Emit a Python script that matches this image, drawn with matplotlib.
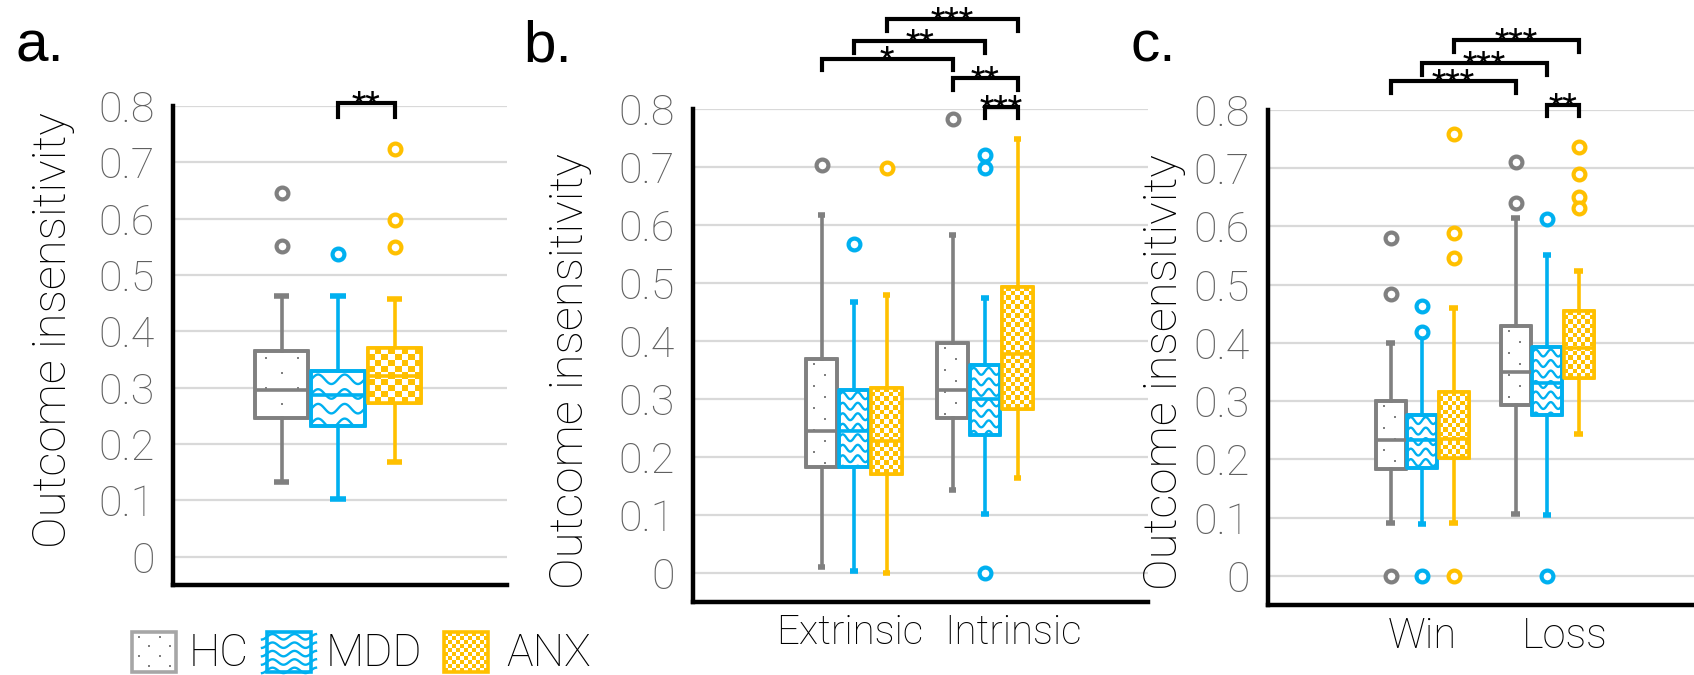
import numpy as np
import matplotlib
matplotlib.use("Agg")
import matplotlib.pyplot as plt
from matplotlib import font_manager as fm
from matplotlib.patches import Rectangle, PathPatch
from matplotlib.colors import ListedColormap

# --- data ---
groups = ["HC", "MDD", "ANX"]
colors = ["#808080", "#00b0f0", "#ffc000"]
legend_edges = ["#a6a6a6", "#00b0f0", "#ffc000"]
patterns = ["dots", "waves", "checker"]
y_ticks = [0, 0.1, 0.2, 0.3, 0.4, 0.5, 0.6, 0.7, 0.8]
y_ticklabels = ["0", "0.1", "0.2", "0.3", "0.4", "0.5", "0.6", "0.7", "0.8"]
ylabel = "Outcome insensitivity"

# panel a: one condition, per group
a_lo = [0.133, 0.102, 0.169]
a_q1 = [0.246, 0.232, 0.273]
a_med = [0.296, 0.287, 0.321]
a_q3 = [0.366, 0.330, 0.370]
a_hi = [0.462, 0.463, 0.457]
a_out = [[0.646, 0.551], [0.537], [0.723, 0.598, 0.550]]
a_sig = [((0, 1), (0, 2), 0.806, "**")]

# panel b: [Extrinsic, Intrinsic] x [HC, MDD, ANX]
b_conds = ["Extrinsic", "Intrinsic"]
b_lo = [[0.010, 0.003, 0.000], [0.143, 0.101, 0.164]]
b_q1 = [[0.183, 0.183, 0.170], [0.268, 0.238, 0.282]]
b_med = [[0.245, 0.245, 0.227], [0.316, 0.300, 0.378]]
b_q3 = [[0.369, 0.316, 0.319], [0.397, 0.358, 0.493]]
b_hi = [[0.617, 0.468, 0.480], [0.582, 0.474, 0.748]]
b_out = [[[0.704], [0.567], [0.698]], [[0.783], [0.720, 0.698, 0.0], []]]
b_sig = [((0, 2), (1, 2), 0.955, "***"), ((0, 1), (1, 1), 0.917, "**"),
         ((0, 0), (1, 0), 0.887, "*"), ((1, 0), (1, 2), 0.853, "**"),
         ((1, 1), (1, 2), 0.804, "***")]

# panel c: [Win, Loss] x [HC, MDD, ANX]
c_conds = ["Win", "Loss"]
c_lo = [[0.091, 0.089, 0.091], [0.107, 0.104, 0.244]]
c_q1 = [[0.183, 0.186, 0.203], [0.294, 0.276, 0.339]]
c_med = [[0.234, 0.234, 0.235], [0.350, 0.332, 0.391]]
c_q3 = [[0.300, 0.277, 0.316], [0.429, 0.393, 0.455]]
c_hi = [[0.400, 0.413, 0.460], [0.615, 0.551, 0.523]]
c_out = [[[0.581, 0.484, 0.0], [0.463, 0.418, 0.0], [0.758, 0.589, 0.546, 0.0]],
         [[0.711, 0.641], [0.613, 0.0], [0.736, 0.690, 0.651, 0.631]]]
c_sig = [((0, 2), (1, 2), 0.920, "***"), ((0, 1), (1, 1), 0.880, "***"),
         ((0, 0), (1, 0), 0.849, "***"), ((1, 1), (1, 2), 0.809, "**")]


# --- fonts: use a light sans if one is installed ---
def _weight(f):
    w = f.weight
    return w if isinstance(w, int) else fm.weight_dict.get(w, 400)

FONT, WEIGHT = "Liberation Sans", "normal"
for fam in ["Roboto", "Lato", "Open Sans", "Inter", "Noto Sans"]:
    if any(f.name == fam and _weight(f) == 300 for f in fm.fontManager.ttflist):
        FONT, WEIGHT = fam, "light"
        break
    if any(f.name == fam + " Light" for f in fm.fontManager.ttflist):
        FONT, WEIGHT = fam + " Light", "normal"
        break
plt.rcParams["font.family"] = [FONT, "DejaVu Sans"]

W, H = 1694, 675
fig = plt.figure(figsize=(W / 100, H / 100), dpi=100)


def add_axes_px(left, top, right, bottom):
    return fig.add_axes([left / W, 1 - bottom / H, (right - left) / W, (bottom - top) / H])


def draw_pattern(ax, kind, x0, x1, y0, y1, color, clip, s=1.0):
    T = ax.transData
    (ax0, ay0), (ax1, ay1) = T.transform([(x0, y0), (x1, y1)])
    px0, px1 = sorted([ax0, ax1])
    py0, py1 = sorted([ay0, ay1])
    inv = T.inverted()
    if kind == "dots":
        pts = []
        row = 0
        y = py1 - 5 * s
        while y > py0:
            x = px0 + (8 if row % 2 == 0 else 19) * s
            while x < px1 - 2:
                pts.append((x, y))
                x += 23 * s
            y -= 11 * s
            row += 1
        if pts:
            d = inv.transform(pts)
            ax.scatter(d[:, 0], d[:, 1], s=4, marker="s", color=color, lw=0,
                       zorder=3.5, clip_path=clip)
    elif kind == "waves":
        per = (px1 - px0) / 2.0
        xs = np.linspace(px0 - 5, px1 + 5, 80)
        yb = py1 - 6 * s
        while yb > py0 - 5:
            ys = yb + 3.4 * s * np.sin(2 * np.pi * (xs - px0) / per)
            d = inv.transform(np.column_stack([xs, ys]))
            ax.plot(d[:, 0], d[:, 1], color=color, lw=1.7, zorder=3.5, clip_path=clip)
            yb -= 10.5 * s
    elif kind == "checker":
        cell = 4.5 * s
        nx = max(1, int(round((px1 - px0) / cell)))
        ny = max(1, int(round((py1 - py0) / cell)))
        arr = np.add.outer(np.arange(ny), np.arange(nx)) % 2
        im = ax.imshow(arr, extent=(x0, x1, y0, y1), origin="lower", aspect="auto",
                       cmap=ListedColormap(["white", color]), interpolation="nearest",
                       zorder=3.5)
        im.set_clip_path(clip)


def style_axes(ax, xlim):
    ax.set_xlim(*xlim)
    ax.set_ylim(-0.05, 0.8)
    ax.set_autoscale_on(False)
    for sp in ["top", "right"]:
        ax.spines[sp].set_visible(False)
    for sp in ["left", "bottom"]:
        ax.spines[sp].set_linewidth(3.2)
    ax.set_yticks(y_ticks)
    ax.set_yticklabels(y_ticklabels, color="#606060", fontsize=31, fontweight=WEIGHT)
    ax.tick_params(axis="both", length=0)
    ax.tick_params(axis="y", pad=13)
    ax.tick_params(axis="x", pad=8)
    ax.yaxis.grid(True, color="#d9d9d9", lw=1.6)
    ax.set_axisbelow(True)
    ax.set_ylabel(ylabel, fontsize=34, fontweight=WEIGHT)


def draw_boxes(ax, ncond, lo, q1, med, q3, hi, out, spacing, width, capw, s):
    for g in range(3):
        pos, stats = [], []
        for c in range(ncond):
            pos.append(c + (g - 1) * spacing)
            stats.append(dict(whislo=lo[c][g], q1=q1[c][g], med=med[c][g], q3=q3[c][g],
                              whishi=hi[c][g], fliers=np.array(out[c][g])))
        col = colors[g]
        res = ax.bxp(stats, positions=pos, widths=width, capwidths=capw, patch_artist=True,
                     manage_ticks=False, zorder=3,
                     boxprops=dict(facecolor="white", edgecolor=col, lw=2.6),
                     whiskerprops=dict(color=col, lw=2.6),
                     capprops=dict(color=col, lw=4, solid_capstyle="butt"),
                     medianprops=dict(color=col, lw=2.6, zorder=4.5),
                     flierprops=dict(marker="o", mfc="white", mec=col, ms=8.5, mew=3, zorder=5))
        for c, box in enumerate(res["boxes"]):
            x0 = pos[c] - width / 2
            draw_pattern(ax, patterns[g], x0, x0 + width, q1[c][g], q3[c][g], col, box, s)
            ax.add_patch(PathPatch(box.get_path(), fill=False, ec=col, lw=2.6, zorder=4,
                                   joinstyle="round"))


def draw_sig(ax, sig, spacing, drop):
    for (c1, g1), (c2, g2), y, lab in sig:
        x1 = c1 + (g1 - 1) * spacing
        x2 = c2 + (g2 - 1) * spacing
        ax.plot([x1, x1, x2, x2], [y - drop, y, y, y - drop], color="black", lw=3,
                clip_on=False, solid_joinstyle="miter", zorder=6)
        ax.annotate(lab, ((x1 + x2) / 2, y), xytext=(0, -8), textcoords="offset points",
                    ha="center", va="baseline", fontsize=24, annotation_clip=False)


# panel a
ax_a = add_axes_px(173, 106, 507, 585)
style_axes(ax_a, (-2.92, 2.99))
ax_a.set_xticks([])
draw_boxes(ax_a, 1, [a_lo], [a_q1], [a_med], [a_q3], [a_hi], [a_out], 1.0, 0.94, 0.27, 1.4)
draw_sig(ax_a, a_sig, 1.0, 0.025)
ax_a.yaxis.set_label_coords(-0.293, 0.532)

# panel b
ax_b = add_axes_px(693, 109, 1148, 602)
style_axes(ax_b, (-1.229, 2.244))
ax_b.set_xticks([-0.03, 1.21])
ax_b.set_xticklabels(b_conds, fontsize=29, fontweight=WEIGHT)
draw_boxes(ax_b, 2, b_lo, b_q1, b_med, b_q3, b_hi, b_out, 0.248, 0.23, 0.06, 1.0)
draw_sig(ax_b, b_sig, 0.248, 0.02)
ax_b.yaxis.set_label_coords(-0.222, 0.468)

# panel c
ax_c = add_axes_px(1268, 110, 1694, 605)
style_axes(ax_c, (-1.232, 2.176))
ax_c.set_xticks([0, 1.14])
ax_c.set_xticklabels(c_conds, fontsize=30, fontweight=WEIGHT)
draw_boxes(ax_c, 2, c_lo, c_q1, c_med, c_q3, c_hi, c_out, 0.252, 0.24, 0.065, 1.0)
draw_sig(ax_c, c_sig, 0.252, 0.02)
ax_c.yaxis.set_label_coords(-0.192, 0.47)

# panel letters
for x, lab in [(16, "a."), (523, "b."), (1130, "c.")]:
    fig.text(x / W, 1 - 61 / H, lab, fontsize=42, va="baseline", family="Liberation Sans")

# legend, drawn in a pixel-coordinate overlay
lax = fig.add_axes([0, 0, 1, 1])
lax.set_xlim(0, W)
lax.set_ylim(H, 0)
lax.set_autoscale_on(False)
lax.axis("off")
for g, (px, tx) in enumerate([(132, 189), (267, 326), (444, 506)]):
    r = Rectangle((px, 632), 44, 40, fc="white", ec="none", zorder=3)
    lax.add_patch(r)
    draw_pattern(lax, patterns[g], px, px + 44, 632, 672, colors[g], r,
                 0.9 if patterns[g] != "waves" else 0.8)
    lax.add_patch(Rectangle((px, 632), 44, 40, fill=False, ec=legend_edges[g], lw=2.6, zorder=4))
    lax.text(tx, 666, groups[g], fontsize=32, fontweight=WEIGHT, va="baseline")

fig.savefig("out.png", dpi=100)
